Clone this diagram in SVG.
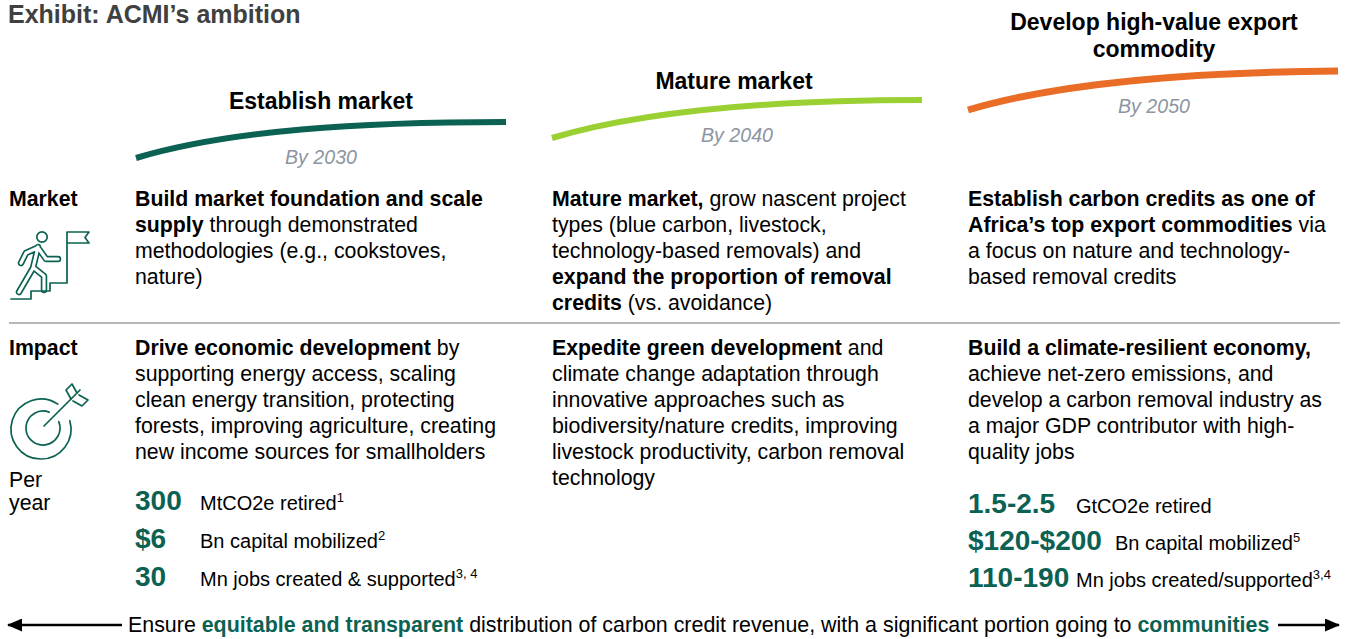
<svg xmlns="http://www.w3.org/2000/svg" width="1348" height="639" viewBox="0 0 1348 639">
<style>
text{font-family:"Liberation Sans",Arial,sans-serif;fill:#000}
.t{font-size:21.3px}
.b{font-weight:bold}
.h{font-size:23px;font-weight:bold;text-anchor:middle}
.by{font-size:19.6px;font-style:italic;fill:#8c95a1;text-anchor:middle}
.num{font-size:28px;font-weight:bold;fill:#0b6152}
.lab{font-size:20px}
.sup{font-size:13px}
.g{fill:#0b6152;font-weight:bold}
.ico{fill:none;stroke:#0b6152;stroke-width:1.7;stroke-linecap:round;stroke-linejoin:round}
.curve{fill:none;stroke-linecap:butt}
</style>
<defs>
<marker id="ah" viewBox="0 0 15 13" refX="14" refY="6.5" markerWidth="15" markerHeight="13" markerUnits="userSpaceOnUse" orient="auto-start-reverse">
<path d="M0,0 L15,6.5 L0,13 Z" fill="#000"/>
</marker>
</defs>
<rect width="1348" height="639" fill="#fff"/>

<text x="8" y="23" style="font-size:25px;font-weight:bold;fill:#404040">Exhibit: ACMI’s ambition</text>

<g id="phase-establish">
<path class="curve" d="M136,158 C230,130 360,122 506,122" stroke="#0b6152" stroke-width="6"/>
<text class="h" x="321" y="109">Establish market</text>
<text class="by" x="321" y="164">By 2030</text>
</g>
<g id="phase-mature">
<path class="curve" d="M552,138 C646,110 776,100 922,100" stroke="#9bd032" stroke-width="6"/>
<text class="h" x="734" y="89">Mature market</text>
<text class="by" x="737" y="142">By 2040</text>
</g>
<g id="phase-export">
<path class="curve" d="M968,110 C1062,82 1192,72 1338,71" stroke="#e96d26" stroke-width="7"/>
<text class="h" x="1154" y="30">Develop high-value export</text>
<text class="h" x="1154" y="57">commodity</text>
<text class="by" x="1154" y="113">By 2050</text>
</g>

<g id="row-market">
<text class="t b" x="9" y="206">Market</text>
<g id="market-icon">
<circle class="ico" cx="42" cy="237" r="5.2"/>
<g fill="none" stroke-linecap="round" stroke-linejoin="round">
<path d="M38,247 L33,268 M37,248 L26,253 L21,263 M39,249 L46,259 L58,259 M33,268 L26,280 L19,292 M34,268 L44,276 L44,290" stroke="#0b6152" stroke-width="6.5"/>
<path d="M38,247 L33,268 M37,248 L26,253 L21,263 M39,249 L46,259 L58,259 M33,268 L26,280 L19,292 M34,268 L44,276 L44,290" stroke="#fff" stroke-width="3.2"/>
</g>
<path class="ico" d="M11,299 L31,299 L31,291 L50,291 L50,283 L67,283 L67,232 L89,232 L85,237.5 L89,243 L67,243"/>
</g>
<text class="t" x="135" y="205.5"><tspan class="b">Build market foundation and scale</tspan></text>
<text class="t" x="135" y="231.5"><tspan class="b">supply</tspan> through demonstrated</text>
<text class="t" x="135" y="257.5">methodologies (e.g., cookstoves,</text>
<text class="t" x="135" y="283.5">nature)</text>

<text class="t" x="552" y="205.5"><tspan class="b">Mature market,</tspan> grow nascent project</text>
<text class="t" x="552" y="231.5">types (blue carbon, livestock,</text>
<text class="t" x="552" y="257.5">technology-based removals) and</text>
<text class="t" x="552" y="283.5"><tspan class="b">expand the proportion of removal</tspan></text>
<text class="t" x="552" y="309.5"><tspan class="b">credits</tspan> (vs. avoidance)</text>

<text class="t" x="968" y="205.5"><tspan class="b">Establish carbon credits as one of</tspan></text>
<text class="t" x="968" y="231.5"><tspan class="b">Africa’s top export commodities</tspan> via</text>
<text class="t" x="968" y="257.5">a focus on nature and technology-</text>
<text class="t" x="968" y="283.5">based removal credits</text>
</g>

<line x1="9" y1="323" x2="1340" y2="323" stroke="#a0a0a0" stroke-width="1.5"/>

<g id="row-impact">
<text class="t b" x="9" y="355">Impact</text>
<g id="impact-icon">
<path class="ico" d="M69.84,420.73 A30,30 0 1 1 57.78,404.13"/>
<path class="ico" d="M58.76,421.63 A17,17 0 1 1 49.09,412.13"/>
<path class="ico" d="M44,426 L80,390"/>
<path class="ico" d="M71,399 L66,390 L72,384 L77,393 M73,401 L82,406 L88,400 L79,395"/>
</g>
<text class="t" x="9" y="487">Per</text>
<text class="t" x="9" y="510">year</text>

<text class="t" x="135" y="355"><tspan class="b">Drive economic development</tspan> by</text>
<text class="t" x="135" y="381">supporting energy access, scaling</text>
<text class="t" x="135" y="407">clean energy transition, protecting</text>
<text class="t" x="135" y="433">forests, improving agriculture, creating</text>
<text class="t" x="135" y="459">new income sources for smallholders</text>

<text class="t" x="552" y="355"><tspan class="b">Expedite green development</tspan> and</text>
<text class="t" x="552" y="381">climate change adaptation through</text>
<text class="t" x="552" y="407">innovative approaches such as</text>
<text class="t" x="552" y="433">biodiversity/nature credits, improving</text>
<text class="t" x="552" y="459">livestock productivity, carbon removal</text>
<text class="t" x="552" y="485">technology</text>

<text class="t" x="968" y="355"><tspan class="b">Build a climate-resilient economy,</tspan></text>
<text class="t" x="968" y="381">achieve net-zero emissions, and</text>
<text class="t" x="968" y="407">develop a carbon removal industry as</text>
<text class="t" x="968" y="433">a major GDP contributor with high-</text>
<text class="t" x="968" y="459">quality jobs</text>
</g>

<g id="metrics-2030">
<text class="num" x="135" y="510">300</text>
<text class="lab" x="200" y="510">MtCO2e retired<tspan class="sup" dy="-8">1</tspan></text>
<text class="num" x="135" y="548">$6</text>
<text class="lab" x="200" y="548">Bn capital mobilized<tspan class="sup" dy="-8">2</tspan></text>
<text class="num" x="135" y="586">30</text>
<text class="lab" x="200" y="586">Mn jobs created &amp; supported<tspan class="sup" dy="-8">3, 4</tspan></text>
</g>
<g id="metrics-2050">
<text class="num" x="968" y="513">1.5-2.5</text>
<text class="lab" x="1076" y="513">GtCO2e retired</text>
<text class="num" x="968" y="550">$120-$200</text>
<text class="lab" x="1115" y="550">Bn capital mobilized<tspan class="sup" dy="-8">5</tspan></text>
<text class="num" x="968" y="587">110-190</text>
<text class="lab" x="1076" y="587">Mn jobs created/supported<tspan class="sup" dy="-8">3,4</tspan></text>
</g>

<g id="connectors">
<line x1="122" y1="625" x2="8" y2="625" stroke="#000" stroke-width="2.4" marker-end="url(#ah)"/>
<line x1="1278" y1="625" x2="1339" y2="625" stroke="#000" stroke-width="2.4" marker-end="url(#ah)"/>
</g>
<text x="128" y="632" style="font-size:21.4px">Ensure <tspan class="g">equitable and transparent</tspan> distribution of carbon credit revenue, with a significant portion going to <tspan class="g">communities</tspan></text>
</svg>
